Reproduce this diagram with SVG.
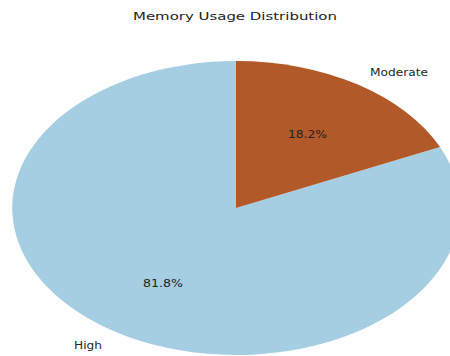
<svg xmlns="http://www.w3.org/2000/svg" width="450" height="356" viewBox="0 0 450 356">
<style>
text{font-family:"DejaVu Sans",sans-serif;fill:#262626}
.lbl{font-size:10px}
.pct{font-size:10px;fill:#222}
.title{font-size:11px;fill:#222}
</style>
<rect width="450" height="356" fill="#fff"/>
<g id="title"><text class="title" x="235" y="20" text-anchor="middle" textLength="204" lengthAdjust="spacingAndGlyphs">Memory Usage Distribution</text></g>
<g id="high">
<path d="M236,208 L440,147 A224,147 0 1 1 236,61 Z" fill="#a6cee3"/>
<text class="pct" x="163" y="287" text-anchor="middle" textLength="40" lengthAdjust="spacingAndGlyphs">81.8%</text>
<text class="lbl" x="88" y="349" text-anchor="middle" textLength="28" lengthAdjust="spacingAndGlyphs">High</text>
</g>
<g id="moderate">
<path d="M236,208 L236,61 A224,147 0 0 1 440,147 Z" fill="#b15928"/>
<text class="pct" x="307.5" y="138" text-anchor="middle" textLength="39" lengthAdjust="spacingAndGlyphs">18.2%</text>
<text class="lbl" x="399" y="75.5" text-anchor="middle" textLength="58" lengthAdjust="spacingAndGlyphs">Moderate</text>
</g>
<g id="connectors"></g>
</svg>
